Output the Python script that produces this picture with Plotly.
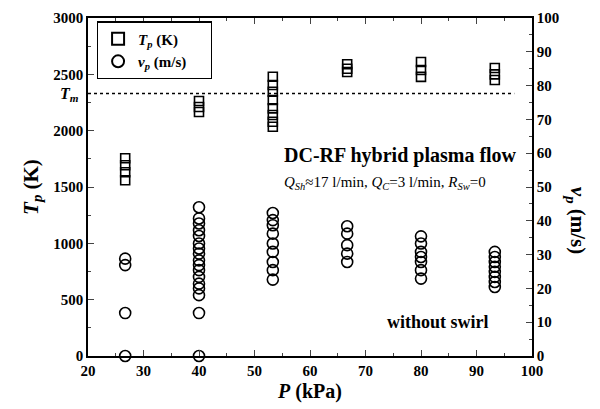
import plotly.graph_objects as go

# ---- data ----
pressures = [26.7, 40.0, 53.3, 66.7, 80.0, 93.3]
tp_values = [
    [1755, 1693, 1631, 1560],
    [2263, 2210, 2166],
    [2478, 2405, 2345, 2272, 2198, 2139, 2079, 2035],
    [2590, 2550, 2521],
    [2610, 2539, 2477],
    [2556, 2500, 2450],
]
vp_values = [
    [28.8, 26.9, 12.7, 0.0],
    [44.0, 40.7, 39.2, 37.2, 35.5, 33.3, 31.8, 30.3, 28.3, 26.9, 25.4, 23.4, 21.4, 20.0, 18.0, 12.7, 0.0],
    [42.3, 40.2, 38.7, 36.2, 33.3, 30.8, 27.8, 25.4, 22.6],
    [38.4, 36.2, 32.8, 30.3, 27.8],
    [35.4, 33.3, 30.8, 29.3, 27.8, 25.4, 22.9],
    [30.8, 29.3, 27.8, 26.4, 24.9, 23.4, 21.9, 20.4],
]
t_melt = 2330
x_ticks = [20, 30, 40, 50, 60, 70, 80, 90, 100]

tp_x = [p for p, vals in zip(pressures, tp_values) for _ in vals]
tp_y = [v for vals in tp_values for v in vals]
vp_x = [p for p, vals in zip(pressures, vp_values) for _ in vals]
vp_y = [v for vals in vp_values for v in vals]

FONT = "Liberation Serif"

fig = go.Figure()
fig.add_trace(go.Scatter(
    x=tp_x, y=tp_y, mode="markers", name="<i>T</i><sub><i>p</i></sub> (K)\u00a0\u00a0\u00a0\u00a0\u00a0",
    marker=dict(symbol="square-open", size=9, color="black", line=dict(width=1.6)),
    cliponaxis=False,
))
fig.add_trace(go.Scatter(
    x=vp_x, y=vp_y, mode="markers", name="<i>v</i><sub><i>p</i></sub> (m/s)\u00a0\u00a0\u00a0\u00a0\u00a0", yaxis="y2",
    marker=dict(symbol="circle-open", size=11, color="black", line=dict(width=1.6)),
    cliponaxis=False,
))

# melting temperature line
fig.add_shape(type="line", xref="x", yref="y", x0=20, x1=96.8, y0=t_melt, y1=t_melt,
              line=dict(color="black", width=1.3, dash="dot"))

tickfont = dict(family=FONT, size=15, color="black", weight="bold")

# the page body has an 8px margin, so the figure is made 8px smaller
fig.update_layout(
    width=592, height=401,
    margin=dict(l=80, r=68, t=10, b=53, autoexpand=False),
    paper_bgcolor="white", plot_bgcolor="white",
    font=dict(family=FONT, color="black"),
    showlegend=True,
    legend=dict(x=0.02, y=0.99, xanchor="left", yanchor="top",
                bordercolor="black", borderwidth=1.2, bgcolor="white",
                font=dict(family=FONT, size=15, weight="bold"),
                itemsizing="constant", tracegroupgap=0),
    xaxis=dict(range=[20, 100], tickvals=x_ticks, ticks="inside", ticklen=6, tickwidth=1.3,
               minor=dict(ticks="inside", ticklen=3, dtick=5, tickwidth=1.2),
               showline=True, linecolor="black", linewidth=1.5, mirror="ticks",
               showgrid=False, zeroline=False, tickfont=tickfont, automargin=False,
               title=dict(text="<i>P</i> (kPa)", font=dict(family=FONT, size=20, weight="bold"), standoff=6)),
    yaxis=dict(range=[0, 3000], dtick=500, ticks="inside", ticklen=6, tickwidth=1.3,
               minor=dict(ticks="inside", ticklen=3, dtick=250, tickwidth=1.2),
               showline=True, linecolor="black", linewidth=1.5, mirror=True,
               showgrid=False, zeroline=False, tickfont=tickfont, automargin=False,
               title=dict(text="<i>T</i><sub><i>p</i></sub> (K)", font=dict(family=FONT, size=21, weight="bold"), standoff=9)),
    yaxis2=dict(range=[0, 100], dtick=10, overlaying="y", side="right", ticks="inside", ticklen=6, tickwidth=1.3,
                minor=dict(ticks="inside", ticklen=3, dtick=5, tickwidth=1.2),
                showline=True, linecolor="black", linewidth=1.5, automargin=False,
                showgrid=False, zeroline=False, tickfont=tickfont),
)

fig.add_annotation(xref="paper", yref="paper", x=1.135, y=0.40, textangle=90, showarrow=False,
                   text="<i>v</i><sub><i>p</i></sub> (m/s)",
                   font=dict(family=FONT, size=21, weight="bold"))
fig.add_annotation(xref="paper", yref="y", x=-0.015, y=t_melt - 10, xanchor="right", showarrow=False,
                   text="<i>T</i><sub><i>m</i></sub>", font=dict(family=FONT, size=16, weight="bold"))
fig.add_annotation(xref="paper", yref="paper", x=0.437, y=0.594, xanchor="left", showarrow=False,
                   text="DC-RF hybrid plasma flow", font=dict(family=FONT, size=20, weight="bold"))
fig.add_annotation(xref="paper", yref="paper", x=0.437, y=0.511, xanchor="left", showarrow=False,
                   text="<i>Q</i><sub><i>Sh</i></sub>≈17 l/min, <i>Q</i><sub><i>C</i></sub>=3 l/min, <i>R</i><sub><i>Sw</i></sub>=0",
                   font=dict(family=FONT, size=15))
fig.add_annotation(xref="paper", yref="paper", x=0.669, y=0.064, xanchor="left", showarrow=False,
                   text="without swirl", font=dict(family=FONT, size=18, weight="bold"))

fig.write_html("out.html")
